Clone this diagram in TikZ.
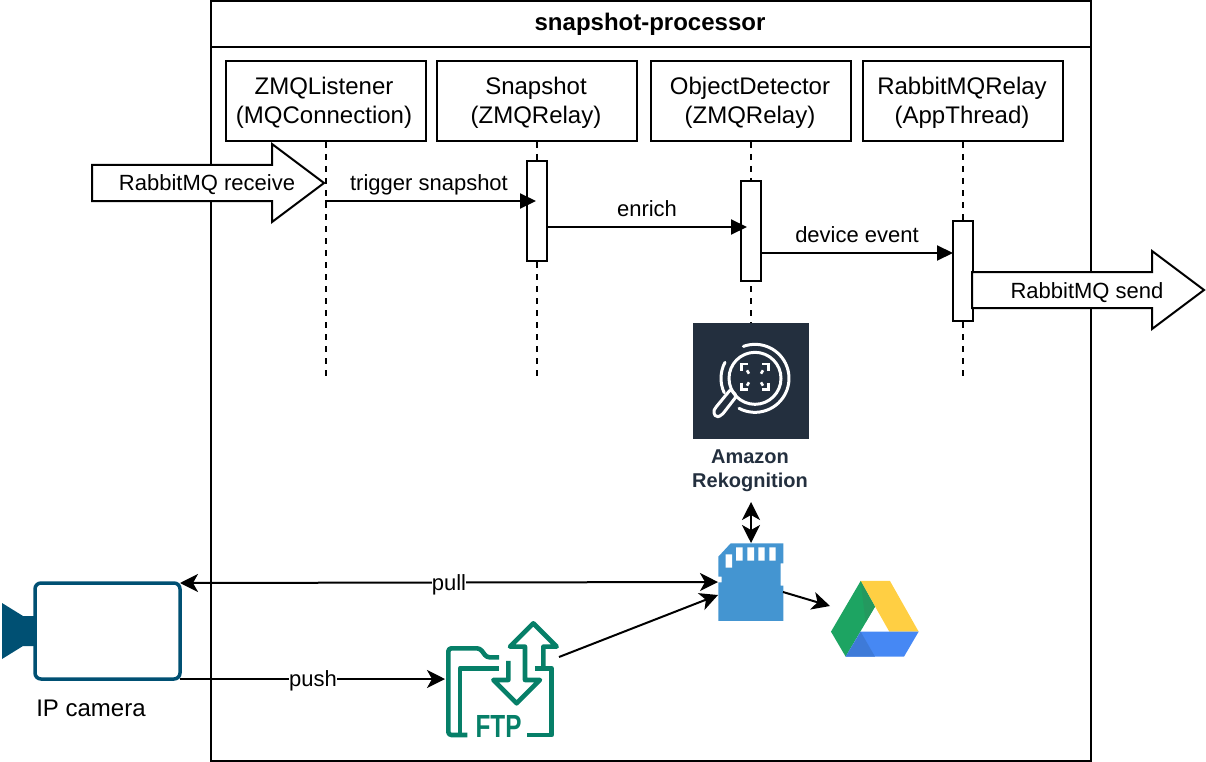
\documentclass[tikz,border=0pt]{standalone}
\usepackage{fontspec}
\setmainfont{Liberation Sans}
\usetikzlibrary{arrows.meta}
\definecolor{awsdark}{HTML}{232F3E}
\definecolor{ftpgreen}{HTML}{067F68}
\definecolor{sdblue}{HTML}{4495D1}
\definecolor{camblue}{HTML}{005073}
\newcommand\boxtext[3][2pt]{\rule{0pt}{21.5pt}#2\hspace*{#1}\\#3\hspace*{#1}}
\tikzset{
  classbox/.style={draw=black,line width=2pt,fill=white,minimum width=200pt,minimum height=80pt,align=center,font=\fontsize{24}{29}\selectfont},
  activation/.style={draw=black,line width=2pt,fill=white,minimum width=20pt,minimum height=#1},
  lifeline/.style={line width=2pt,dash pattern=on 6pt off 6pt},
  msgline/.style={line width=2pt,-{Triangle[length=16pt,width=15pt]}},
  flowline/.style={line width=2pt,-{Stealth[length=18pt,width=18pt,inset=5pt]}},
  bothline/.style={line width=2pt,{Stealth[length=18pt,width=18pt,inset=5pt]}-{Stealth[length=18pt,width=18pt,inset=5pt]}},
  msglabel/.style={font=\fontsize{22}{26}\selectfont,text height=17pt,text depth=3pt},
  bigarrow/.style={draw=black,line width=2pt,fill=white}
}
\begin{document}
\begin{tikzpicture}[x=1pt,y=-1pt]
  \tikzstyle{every node}+=[inner sep=0pt]
  \useasboundingbox (0,0) rectangle (1206,762);
  \node [draw=black,line width=2pt,minimum width=880pt,minimum height=760pt] (processor) at (651,381) {};
  \draw [line width=2pt] (211,47) -- (1091,47);
  \node [font=\bfseries\fontsize{24}{29}\selectfont] (title) at (650,24) {snapshot-processor};
  \node [classbox] (listener) at (326,101) {\boxtext[4pt]{ZMQListener}{(MQConnection)}};
  \node [classbox] (snapshot) at (537,101) {\boxtext{Snapshot}{(ZMQRelay)}};
  \node [classbox] (detector) at (751,101) {\boxtext{ObjectDetector}{(ZMQRelay)}};
  \node [classbox] (relay) at (963,101) {\boxtext{RabbitMQRelay}{(AppThread)}};
  \coordinate (listenerend) at (326,376);
  \coordinate (snapshotend) at (537,376);
  \coordinate (detectorend) at (751,323);
  \coordinate (relayend) at (963,376);
  \draw [lifeline] (listener.south) -- (listenerend);
  \draw [lifeline] (snapshot.south) -- (snapshotend);
  \draw [lifeline] (detector.south) -- (detectorend);
  \draw [lifeline] (relay.south) -- (relayend);
  \node [activation=100pt] (snapact) at (537,211) {};
  \node [activation=100pt] (detact) at (751,231) {};
  \node [activation=100pt] (relayact) at (963,271) {};
  \draw [bigarrow] (92,165) -- (272,165) -- (272,144) -- (324,183) -- (272,222) -- (272,201) -- (92,201) -- cycle;
  \node [msglabel] (receive) at (207,183) {RabbitMQ receive};
  \coordinate (triggerstart) at (325,201);
  \coordinate (triggerend) at (536,201);
  \draw [msgline] (triggerstart) -- (triggerend);
  \node [msglabel] (triggertext) at (429,183) {trigger snapshot};
  \coordinate (enrichstart) at (547,227);
  \coordinate (enrichend) at (747,227);
  \draw [msgline] (enrichstart) -- (enrichend);
  \node [msglabel] (enrichtext) at (647,209) {enrich};
  \coordinate (eventstart) at (761,253);
  \coordinate (eventend) at (953,253);
  \draw [msgline] (eventstart) -- (eventend);
  \node [msglabel] (eventtext) at (857,235) {device event};
  \draw [bigarrow] (972,272) -- (1152,272) -- (1152,251) -- (1204,290) -- (1152,329) -- (1152,308) -- (972,308) -- cycle;
  \node [msglabel] (send) at (1087,291) {RabbitMQ send};
  \node [fill=awsdark,minimum width=116pt,minimum height=116pt] (rekognition) at (751,381) {};
  \begin{scope}[white,line width=3pt,line cap=round,shift={(680,310)},x=0.3333pt,y=-0.3333pt]
    \draw (225,205) circle (26pt);
    \draw ([shift={(110:34pt)}]225,205) arc (110:-118:34pt);
    \draw ([shift={(152:34pt)}]225,205) arc (152:205:34pt);
    \draw [rounded corners=2pt,line join=round] (152,238) -- (170,258) -- (125,316) -- (108,322) -- (100,305) -- (105,295) -- cycle;
    \draw [line width=2.8pt,line cap=butt] (184,182) -- (184,162) -- (204,162) (246,162) -- (266,162) -- (266,182) (184,218) -- (184,238) -- (204,238) (246,238) -- (266,238) -- (266,218);
    \draw [line width=2.6pt,line cap=butt] (201,181) -- (207,191) (249,181) -- (243,191) (201,227) -- (207,217) (249,227) -- (243,217);
  \end{scope}
  \node [font=\bfseries\fontsize{20}{24}\selectfont,text=awsdark,align=center] (rektext) at (750,471) {Amazon\\Rekognition};
  \begin{scope}[shift={(700,495)},x=0.3333pt,y=-0.3333pt]
    \path [fill=sdblue] (55,185) -- (92,145) -- (250,145) -- (250,205) -- (242,205) -- (242,272) -- (250,272) -- (250,378) -- (55,378) -- (55,262) -- (65,262) -- (65,245) -- (55,245) -- cycle;
    \path [fill=white] (77,178) rectangle (96,218) (108,157) rectangle (128,197) (142,157) rectangle (162,197) (175,157) rectangle (194,197) (208,157) rectangle (227,197);
    \path [fill={rgb,255:red,29;green,164;blue,98}] (482,258) -- (525,335) -- (437,485) -- (393,410) -- cycle;
    \path [fill={rgb,255:red,255;green,207;blue,67}] (482,258) -- (570,258) -- (656,410) -- (568,410) -- cycle;
    \path [fill={rgb,255:red,70;green,136;blue,244}] (482,410) -- (656,410) -- (612,485) -- (437,485) -- cycle;
    \path [fill={rgb,255:red,62;green,122;blue,216}] (482,410) -- (525,485) -- (437,485) -- cycle;
    \path [fill={rgb,255:red,36;green,153;blue,95}] (482,258) -- (525,335) -- (497,382) -- cycle;
  \end{scope}
  \coordinate (sdcard) at (751,543);
  \coordinate (rekbottom) at (751,502);
  \draw [bothline] (rekbottom) -- (sdcard);
  \coordinate (sdright) at (783,592);
  \coordinate (drive) at (830,606);
  \draw [flowline] (sdright) -- (drive);
  \begin{scope}[ftpgreen,line width=4.6pt,line join=round,shift={(430,530)},x=0.3333pt,y=-0.3333pt]
    \draw [rounded corners=3pt] (207,382) -- (170,382) -- (150,355) -- (55,355) -- (55,615) -- (112,615);
    \draw (90,615) -- (90,415) -- (207,415);
    \draw (315,415) -- (365,415) -- (365,615) -- (290,615);
    \draw (340,420) -- (340,350) -- (380,350) -- (310,280) -- (240,350) -- (285,350) -- (285,450) -- (330,450) -- (260,520) -- (190,450) -- (235,450) -- (235,393);
  \end{scope}
  \node [text=ftpgreen,font=\bfseries\fontsize{32}{32}\selectfont,xscale=0.76] (ftptext) at (498.5,726) {FTP};
  \path [fill=camblue] (2,603) -- (23,616) -- (35,616) -- (35,646) -- (23,646) -- (2,659) -- cycle;
  \node [draw=camblue,line width=3.5pt,rounded corners=6pt,fill=white,minimum width=145pt,minimum height=96pt] (camera) at (107.5,631) {};
  \node [font=\fontsize{24}{29}\selectfont] (cameratext) at (91,708) {IP camera};
  \coordinate (pullstart) at (180,583);
  \coordinate (pullend) at (718,582);
  \draw [bothline] (pullstart) -- (pullend);
  \node [msglabel,fill=white] (pulltext) at (449,583) {pull};
  \coordinate (pushstart) at (180,679);
  \coordinate (pushend) at (445,679);
  \draw [flowline] (pushstart) -- (pushend);
  \node [msglabel,fill=white] (pushtext) at (313,679) {push};
  \coordinate (ftpout) at (559,657);
  \coordinate (sdleft) at (718,595);
  \draw [flowline] (ftpout) -- (sdleft);
\end{tikzpicture}
\end{document}
